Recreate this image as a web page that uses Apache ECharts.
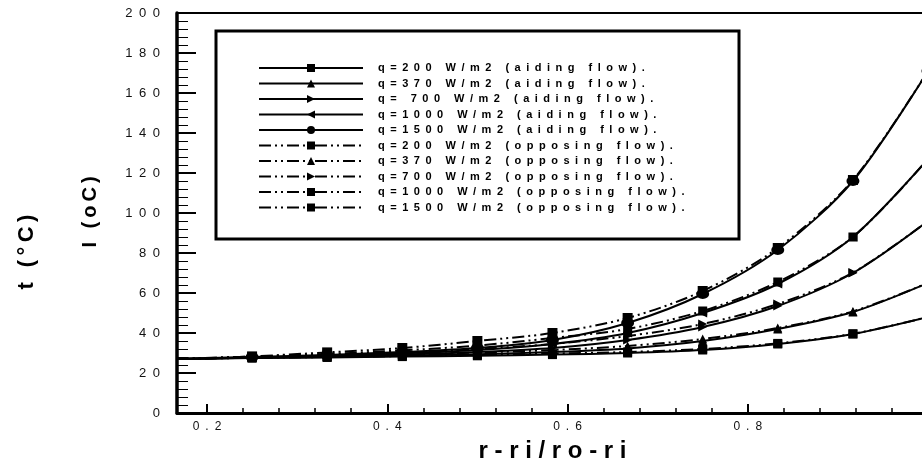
<!DOCTYPE html>
<html>
<head>
<meta charset="utf-8">
<script src="https://cdn.jsdelivr.net/npm/echarts@6/dist/echarts.min.js"></script>
<style>
  html, body { margin: 0; padding: 0; background: #fff; }
  #main { width: 922px; height: 464px; }
</style>
</head>
<body>
<div id="main"></div>
<script>
// r-ri/ro-ri positions of the computed points
const xValues = [0.1667, 0.25, 0.3333, 0.4167, 0.5, 0.5833, 0.6667, 0.75, 0.8333, 0.9167, 1.0];

// aiding flow (solid lines)
const aiding200  = [27, 27.5, 27.8, 28.2, 28.6, 29.2, 30.0, 31.5, 34.5, 39.5, 48];
const aiding370  = [27, 27.6, 28.0, 28.6, 29.4, 30.5, 32.3, 36.0, 42.0, 50.5, 65];
const aiding700  = [27, 27.7, 28.3, 29.2, 30.5, 32.5, 36.5, 43.0, 53.5, 70.0, 96];
const aiding1000 = [27, 27.8, 28.6, 29.8, 31.5, 34.5, 40.0, 50.0, 64.5, 88.0, 127];
const aiding1500 = [27, 28.0, 29.0, 30.5, 32.5, 36.5, 45.0, 59.5, 81.5, 116.0, 171];

// opposing flow (dash-dot-dot lines)
const opposing200  = [27, 27.6, 28.0, 28.5, 29.0, 29.7, 30.5, 32.0, 34.8, 39.6, 48];
const opposing370  = [27, 27.8, 28.4, 29.2, 30.2, 31.5, 33.5, 37.0, 42.5, 50.8, 65];
const opposing700  = [27, 28.0, 29.0, 30.2, 32.0, 34.5, 38.5, 44.5, 54.5, 70.2, 96];
const opposing1000 = [27, 28.2, 29.5, 31.3, 33.7, 37.5, 42.0, 51.0, 65.5, 88.0, 127];
const opposing1500 = [27, 28.3, 30.3, 32.5, 36.0, 40.0, 47.5, 61.0, 82.5, 116.5, 171];

const seriesNames = [
  'q=200 W/m2 (aiding flow).',
  'q=370 W/m2 (aiding flow).',
  'q= 700 W/m2 (aiding flow).',
  'q=1000 W/m2 (aiding flow).',
  'q=1500 W/m2 (aiding flow).',
  'q=200 W/m2 (opposing flow).',
  'q=370 W/m2 (opposing flow).',
  'q=700 W/m2 (opposing flow).',
  'q=1000 W/m2 (opposing flow).',
  'q=1500 W/m2 (opposing flow).'
];

// axis ticks
const xMajorTicks = [0.2, 0.4, 0.6, 0.8, 1.0];
const xMinorTicks = [0.24, 0.28, 0.32, 0.36, 0.44, 0.48, 0.52, 0.56,
                     0.64, 0.68, 0.72, 0.76, 0.84, 0.88, 0.92, 0.96];

const FONT = 'Liberation Sans, Arial, Helvetica, sans-serif';
const EN = '\u2002';
const THIN = '\u2009';

// spread the characters out like the plotting program did
function spaced(str, sep) {
  return String(str).split('').join(sep);
}

const dashDot = [12, 4, 2, 4, 2, 4];

const seriesStyles = [
  { data: aiding200,    symbol: 'rect',     size: 9,       rotate: 0,   dash: 'solid' },
  { data: aiding370,    symbol: 'triangle', size: 9,       rotate: 0,   dash: 'solid' },
  { data: aiding700,    symbol: 'triangle', size: 9,       rotate: -90, dash: 'solid' },
  { data: aiding1000,   symbol: 'triangle', size: 9,       rotate: 90,  dash: 'solid' },
  { data: aiding1500,   symbol: 'circle',   size: [13, 10], rotate: 0,  dash: 'solid' },
  { data: opposing200,  symbol: 'rect',     size: 9,       rotate: 0,   dash: dashDot },
  { data: opposing370,  symbol: 'triangle', size: 9,       rotate: 0,   dash: dashDot },
  { data: opposing700,  symbol: 'triangle', size: 9,       rotate: -90, dash: dashDot },
  { data: opposing1000, symbol: 'rect',     size: 9,       rotate: 0,   dash: dashDot },
  { data: opposing1500, symbol: 'rect',     size: 10,      rotate: 0,   dash: dashDot }
];

let series = seriesStyles.map(function (s, k) {
  return {
    name: seriesNames[k],
    type: 'line',
    smooth: 0.3,
    symbol: s.symbol,
    symbolSize: s.size,
    symbolRotate: s.rotate,
    showAllSymbol: true,
    itemStyle: { color: '#000' },
    lineStyle: { color: '#000', width: 2, type: s.dash },
    emphasis: { disabled: true },
    data: xValues.map(function (x, i) {
      // first point sits on the y axis, no marker there
      return i === 0 ? { value: [x, s.data[i]], symbol: 'none' } : [x, s.data[i]];
    })
  };
});

let myChart = echarts.init(document.getElementById('main'));

let option = {
  animation: false,
  backgroundColor: '#fff',
  textStyle: { fontFamily: FONT },
  grid: {
    left: 177,
    top: 13,
    width: 751,
    height: 400,
    outerBoundsMode: 'none',
    containLabel: false,
    show: true,
    borderColor: '#000',
    borderWidth: 2,
    backgroundColor: 'transparent'
  },
  legend: {
    orient: 'vertical',
    left: 258,
    top: 62,
    padding: 0,
    z: 10,
    data: seriesNames,
    itemWidth: 104,
    itemHeight: 10,
    itemGap: 3.5,
    selectedMode: false,
    formatter: function (name) { return spaced(name, EN); },
    textStyle: {
      fontFamily: FONT,
      fontSize: 11,
      fontWeight: 'bold',
      color: '#000',
      lineHeight: 12,
      padding: [0, 0, 0, 10]
    }
  },
  xAxis: [
    {
      type: 'value',
      min: 0.1667,
      max: 1.0,
      name: spaced('r-ri/ro-ri', ' '),
      nameLocation: 'middle',
      nameGap: 26,
      nameTextStyle: { fontFamily: FONT, fontSize: 24, fontWeight: 'bold', color: '#000' },
      axisLine: { lineStyle: { color: '#000', width: 3 } },
      axisTick: { inside: true, length: 9, customValues: xMajorTicks, lineStyle: { color: '#000', width: 2 } },
      axisLabel: {
        customValues: xMajorTicks,
        margin: 8,
        fontSize: 12,
        color: '#111',
        fontFamily: FONT,
        formatter: function (v) { return spaced(v.toFixed(1).replace(/^1\.0$/, '1'), EN); }
      },
      splitLine: { show: false }
    },
    {
      type: 'value',
      min: 0.1667,
      max: 1.0,
      position: 'bottom',
      axisLine: { show: false },
      axisTick: { inside: true, length: 5, customValues: xMinorTicks, lineStyle: { color: '#000', width: 1.5 } },
      axisLabel: { show: false },
      splitLine: { show: false }
    }
  ],
  yAxis: {
    type: 'value',
    min: 0,
    max: 200,
    interval: 20,
    axisLine: { show: true, lineStyle: { color: '#000', width: 3.5 } },
    axisTick: { show: true, inside: true, length: 19, lineStyle: { color: '#000', width: 2 } },
    minorTick: { show: true, splitNumber: 5, length: 11, lineStyle: { color: '#000', width: 1 } },
    axisLabel: {
      margin: 17,
      fontSize: 13,
      color: '#111',
      fontFamily: FONT,
      formatter: function (v) { return spaced(v, EN); }
    },
    splitLine: { show: false }
  },
  graphic: [
    {
      type: 'rect',
      z: 1,
      shape: { x: 216, y: 31, width: 523, height: 208 },
      style: { fill: '#fff', stroke: '#000', lineWidth: 3 }
    },
    {
      type: 'text',
      x: 27,
      y: 252,
      rotation: Math.PI / 2,
      style: {
        text: spaced('t (°C)', THIN),
        font: 'bold 22px ' + FONT,
        fill: '#000',
        align: 'center',
        verticalAlign: 'middle'
      }
    },
    {
      type: 'text',
      x: 90,
      y: 212,
      rotation: Math.PI / 2,
      style: {
        text: spaced('I (oC)', THIN),
        font: 'bold 20px ' + FONT,
        fill: '#000',
        align: 'center',
        verticalAlign: 'middle'
      }
    }
  ],
  series: series
};

myChart.setOption(option);
</script>
</body>
</html>
